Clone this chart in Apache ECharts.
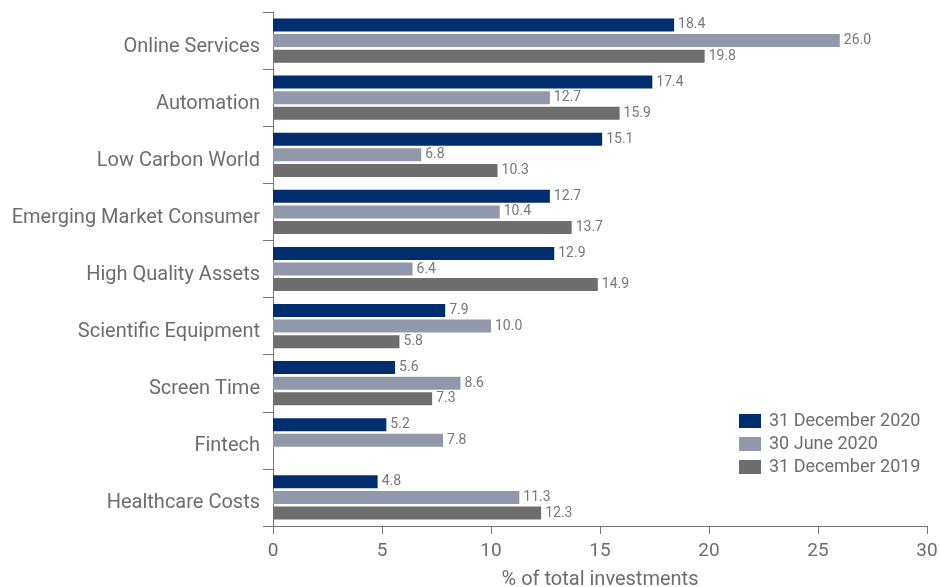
<!DOCTYPE html>
<html>
<head>
<meta charset="utf-8">
<script src="https://cdn.jsdelivr.net/npm/echarts@6/dist/echarts.min.js"></script>
<style>
html, body { margin: 0; padding: 0; background: #fff; }
#ech { width: 941px; height: 587px; }
</style>
</head>
<body>
<div id="ech"></div>
<script>
var categories = ["Online Services", "Automation", "Low Carbon World", "Emerging Market Consumer",
	"High Quality Assets", "Scientific Equipment", "Screen Time", "Fintech", "Healthcare Costs"];
var dec2020 = [18.4, 17.4, 15.1, 12.7, 12.9, 7.9, 5.6, 5.2, 4.8];
var jun2020 = [26.0, 12.7, 6.8, 10.4, 6.4, 10.0, 8.6, 7.8, 11.3];
var dec2019 = [19.8, 15.9, 10.3, 13.7, 14.9, 5.8, 7.3, null, 12.3];
var seriesNames = ["31 December 2020", "30 June 2020", "31 December 2019"];
var colors = ["#002d6e", "#9098aa", "#6e6e6e"];

function showEchart() {
	var myChart = echarts.init(document.getElementById('ech'));
	var textColor = '#6d6d6d';
	var font = 'Roboto, "Noto Sans", sans-serif';

	function makeSeries(name, data, color) {
		return {
			name : name,
			type : 'bar',
			data : data,
			barWidth : 13,
			barGap : '20%',
			itemStyle : { color : color },
			label : {
				show : true,
				position : 'right',
				distance : 4,
				color : '#777',
				fontSize : 14,
				fontFamily : font,
				formatter : function(p) { return p.value == null ? '' : p.value.toFixed(1); }
			}
		};
	}

	var option = {
		animation : false,
		textStyle : { fontFamily : font },
		grid : { left : 273, top : 12, right : 14, bottom : 61, outerBoundsMode : 'none', containLabel : false },
		legend : {
			orient : 'vertical',
			left : 734,
			top : 407,
			itemWidth : 22,
			itemHeight : 14,
			itemGap : 5,
			icon : 'rect',
			data : seriesNames,
			textStyle : { color : textColor, fontSize : 18, fontFamily : font, padding : [0, 0, 0, 3] }
		},
		xAxis : {
			type : 'value',
			min : 0,
			max : 30,
			interval : 5,
			name : '% of total investments',
			nameLocation : 'middle',
			nameGap : 44,
			nameTextStyle : { color : textColor, fontSize : 20, fontFamily : font },
			axisLine : { show : true, lineStyle : { color : '#777' } },
			axisTick : { show : true, length : 8, lineStyle : { color : '#777' } },
			axisLabel : { color : textColor, fontSize : 19, margin : 16, fontFamily : font },
			splitLine : { show : false }
		},
		yAxis : {
			type : 'category',
			inverse : true,
			data : categories,
			axisLine : { show : true, lineStyle : { color : '#777' } },
			axisTick : { show : true, length : 10, lineStyle : { color : '#777' } },
			axisLabel : {
				margin : 13,
				formatter : function(v) { return '{c|' + v + '}'; },
				rich : {
					c : { color : textColor, fontSize : 20, fontFamily : font, padding : [12, 0, 0, 0] }
				}
			}
		},
		series : [
			makeSeries(seriesNames[0], dec2020, colors[0]),
			makeSeries(seriesNames[1], jun2020, colors[1]),
			makeSeries(seriesNames[2], dec2019, colors[2])
		]
	};
	myChart.setOption(option);
}
showEchart();
</script>
</body>
</html>
